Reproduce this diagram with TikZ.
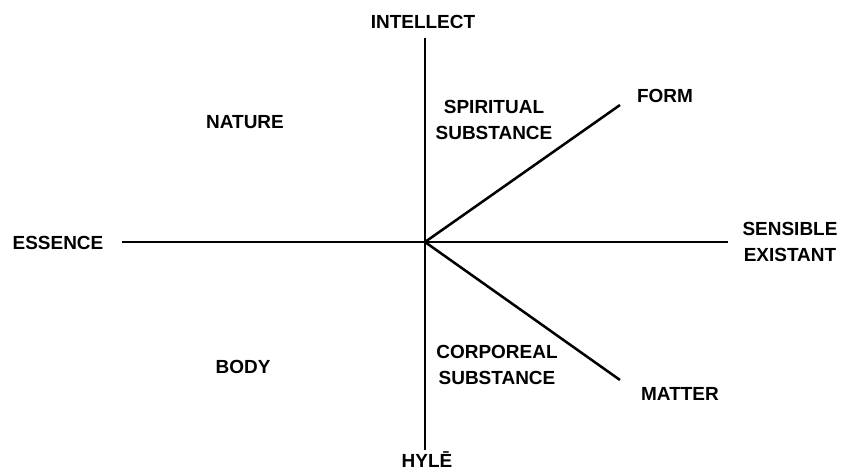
\documentclass[tikz,border=0pt]{standalone}
\usepackage{fontspec}
\setmainfont{Liberation Sans}
\usetikzlibrary{positioning, calc}

\begin{document}
\begin{tikzpicture}[x=0.025cm, y=-0.025cm,
  lbl/.style={font=\fontsize{13.5}{19}\selectfont\bfseries, align=center, inner sep=1pt},
  axis/.style={line width=1.8pt}]
  \useasboundingbox (0,0) rectangle (844,470);

  % Axes
  \coordinate (o) at (425,242);
  \coordinate (top) at (425,38);
  \coordinate (bot) at (425,450);
  \coordinate (lft) at (122,242);
  \coordinate (rgt) at (728,242);
  \draw[axis] (top) -- (bot);
  \draw[axis] (lft) -- (rgt);

  % Form and matter
  \coordinate (formend) at (620,105);
  \coordinate (matterend) at (620,380);
  \draw[axis] (o) -- (formend);
  \draw[axis] (o) -- (matterend);

  % Labels
  \node[lbl] (intellect) at (423,22) {INTELLECT};
  \node[lbl] (hyle) at (427,460) {HYLĒ};
  \node[lbl] (essence) at (58,243) {ESSENCE};
  \node[lbl] (sensible) at (790,242) {SENSIBLE\\EXISTANT};
  \node[lbl] (form) at (665,96) {FORM};
  \node[lbl] (matter) at (680,394) {MATTER};
  \node[lbl] (nature) at (245,122) {NATURE};
  \node[lbl] (body) at (243,367) {BODY};
  \node[lbl] (spiritual) at (494,120) {SPIRITUAL\\SUBSTANCE};
  \node[lbl] (corporeal) at (497,365) {CORPOREAL\\SUBSTANCE};
\end{tikzpicture}
\end{document}
